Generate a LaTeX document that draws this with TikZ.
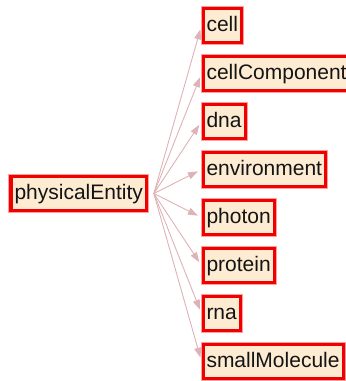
\documentclass[tikz,border=0pt]{standalone}
\usepackage{fontspec}
\setmainfont{Liberation Sans}
\usetikzlibrary{arrows.meta}
\definecolor{boxfill}{RGB}{253,236,210}
\definecolor{boxline}{RGB}{240,0,0}
\definecolor{boxhalo}{RGB}{255,160,160}
\definecolor{edgecol}{RGB}{222,178,182}
\definecolor{textcol}{RGB}{20,20,20}
\begin{document}
\begin{tikzpicture}[x=1bp,y=-1bp,
  concept/.style={draw=boxline, line width=3bp, fill=boxfill,
    preaction={draw=boxhalo, line width=5bp},
    text=textcol, font=\fontsize{21bp}{25bp}\selectfont,
    inner xsep=3.5bp, inner ysep=0pt, minimum height=34bp,
    text height=15.5bp, text depth=4.5bp, anchor=west},
  isa/.style={draw=edgecol, line width=0.9bp,
    -{Triangle[length=10bp,width=7bp]}, shorten >=4bp}]
\useasboundingbox (0,0) rectangle (346,381);
% root concept
\node[concept] (pe) at (9.5,193.5) {physicalEntity};
% child concepts, one per row
\node[concept] (cell)  at (201.5,25.5)  {cell};
\node[concept] (comp)  at (201.5,73.5)  {cellComponent};
\node[concept] (dna)   at (201.5,121.5) {dna};
\node[concept] (env)   at (201.5,169.5) {environment};
\node[concept] (phot)  at (201.5,217.5) {photon};
\node[concept] (prot)  at (201.5,265.5) {protein};
\node[concept] (rna)   at (201.5,313.5) {rna};
\node[concept] (small) at (201.5,361.5) {smallMolecule};
% subclass links fanning out from the root
\foreach \c in {cell,comp,dna,env,phot,prot,rna,small}
  \draw[isa] ([xshift=6bp]pe.east) -- (\c.west);
\end{tikzpicture}
\end{document}
